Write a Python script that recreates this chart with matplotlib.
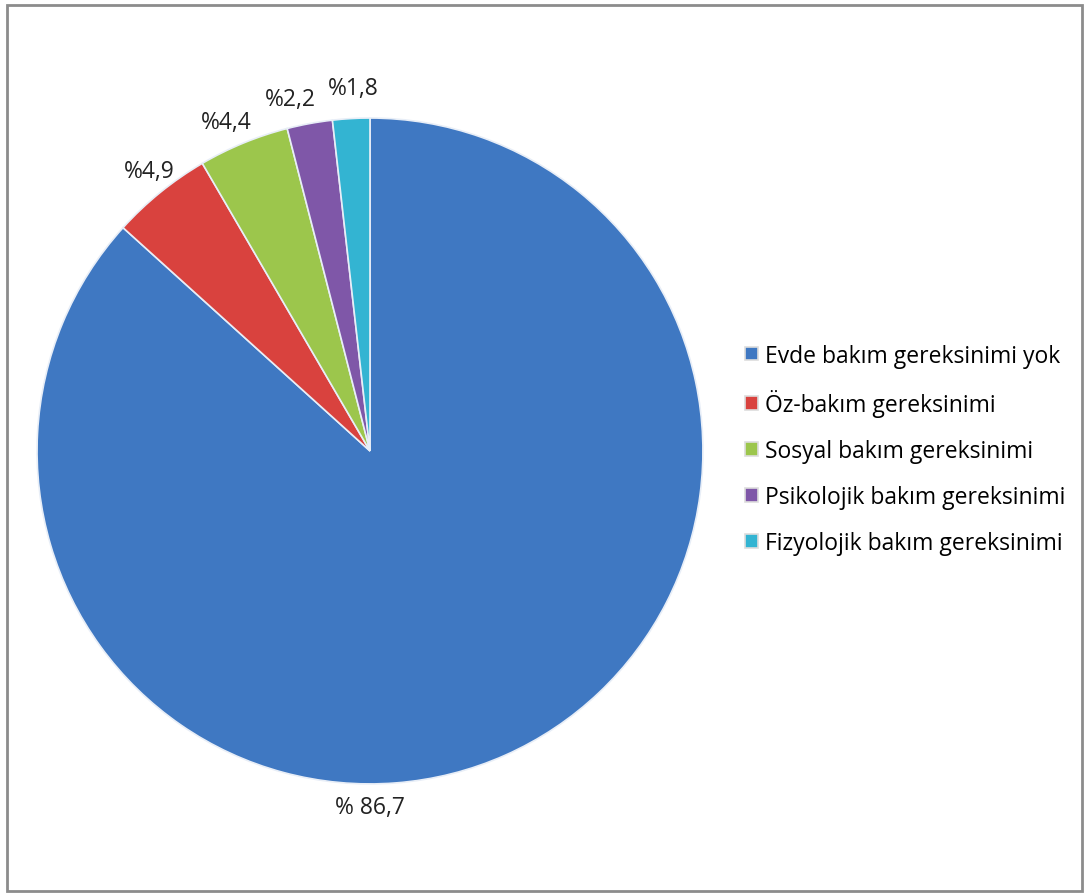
import matplotlib
matplotlib.use("Agg")
import matplotlib.pyplot as plt
from matplotlib.patches import Rectangle

labels = ["Evde bakım gereksinimi yok", "Öz-bakım gereksinimi", "Sosyal bakım gereksinimi",
          "Psikolojik bakım gereksinimi", "Fizyolojik bakım gereksinimi"]
values = [86.7, 4.9, 4.4, 2.2, 1.8]
value_text = ["% 86,7", "%4,9", "%4,4", "%2,2", "%1,8"]
colors = ["#3f78c2", "#d9423e", "#9cc64c", "#7f57a8", "#33b4d2"]
# label spots (pie radius units), as placed in the original chart
label_pos = [(0, -1.07), (-0.664, 0.841), (-0.432, 0.988), (-0.24, 1.057), (-0.051, 1.09)]

plt.rcParams['font.family'] = ['Open Sans', 'DejaVu Sans']

fig = plt.figure(figsize=(10.85, 8.95), dpi=100)
fig.patches.append(Rectangle((0.0065, 0.003), 0.9905, 0.99, transform=fig.transFigure,
                             fill=False, edgecolor="#8c8c8c", linewidth=2))

ax = fig.add_axes([0.034, 0.123, 0.614, 0.744])
wedges, texts = ax.pie(values, colors=colors, startangle=90, counterclock=False,
                       labels=value_text, labeldistance=1.09,
                       wedgeprops=dict(edgecolor="#e8eef7", linewidth=1.2),
                       textprops=dict(fontsize=16.5, color="#222222", ha="center", va="center"))
for t, p in zip(texts, label_pos):
    t.set_position(p)
    t.set_ha("center")
ax.set_xlim(-1, 1)
ax.set_ylim(-1, 1)
ax.set_aspect("equal")

leg = fig.legend(wedges, labels, loc="center left", bbox_to_anchor=(0.668, 0.497),
                 frameon=False, fontsize=16.5, handlelength=0.55, handleheight=0.55,
                 handletextpad=0.3, labelspacing=0.95)
for h in leg.legend_handles:
    h.set_edgecolor("#dddddd")

fig.savefig("out.png", dpi=100)
